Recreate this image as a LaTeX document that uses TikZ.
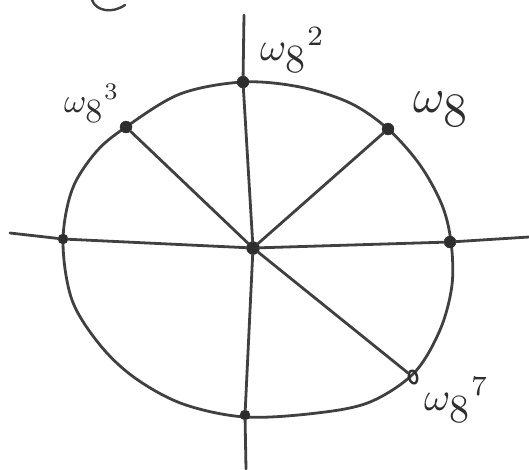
\documentclass[tikz,border=0pt]{standalone}
\usetikzlibrary{shapes.geometric}
\begin{document}
\begin{tikzpicture}[x=1pt,y=-1pt,
  pencil/.style={draw=black!75,line width=2.8pt,line cap=round,line join=round},
  dotmark/.style={circle,fill=black!82,draw=black!82,inner sep=0pt,minimum size=12pt},
  opendot/.style={ellipse,draw=black!82,line width=2.4pt,inner sep=0pt,minimum width=8pt,minimum height=13pt},
  lbl/.style={text=black!82,inner sep=0pt}]
\useasboundingbox (0,0) rectangle (529,469);
% axes
\coordinate (xl) at (10,233);
\coordinate (xr) at (529,237);
\coordinate (yt) at (244,15);
\coordinate (yb) at (246,469);
\node[dotmark,minimum size=13pt] (o) at (253,248) {};
% circle
\draw[pencil] plot[smooth cycle,tension=0.55] coordinates {
  (243,82) (300,87) (350,103) (388,129) (420,165) (442,205) (451,242)
  (452,285) (440,330) (414,373) (370,402) (317,413)
  (245,417) (183,404) (135,378) (100,345)
  (72,300) (63,242) (72,190) (96,152) (126,127) (180,94)};
% points
\node[dotmark] (p0) at (450,242) {};
\node[dotmark] (p1) at (388,129) {};
\node[dotmark] (p2) at (243,82) {};
\node[dotmark] (p3) at (126,127) {};
\node[dotmark,minimum size=10pt] (p4) at (63,239) {};
\node[dotmark,minimum size=10pt] (p6) at (245,415) {};
\node[opendot,rotate=15] (p7) at (413,377) {};
% axes lines
\draw[pencil] (xl) -- (p4) -- (o) -- (p0) -- (xr);
\draw[pencil] (yt) -- (p2) -- (o) -- (p6) -- (yb);
% spokes
\draw[pencil] (o) -- (p1);
\draw[pencil] (o) -- (p3);
\draw[pencil] (o) -- (p7);
% labels
\node[lbl,anchor=base west] (l2) at (260,60) {\scalebox{4}{$\omega_{\textstyle 8}{}^{2}$}};
\node[lbl,anchor=base west] (l1) at (413,112) {\scalebox{4.8}{$\omega_{\textstyle 8}$}};
\node[lbl,anchor=base west] (l3) at (64,112) {\scalebox{3.4}{$\omega_{\textstyle 8}{}^{3}$}};
\node[lbl,anchor=base west] (l7) at (424,410) {\scalebox{4}{$\omega_{\textstyle 8}{}^{7}$}};
% cut-off stroke at top
\draw[pencil,line width=2.4pt] (92,0) .. controls (96,11) and (112,14) .. (125,5);
\end{tikzpicture}
\end{document}
